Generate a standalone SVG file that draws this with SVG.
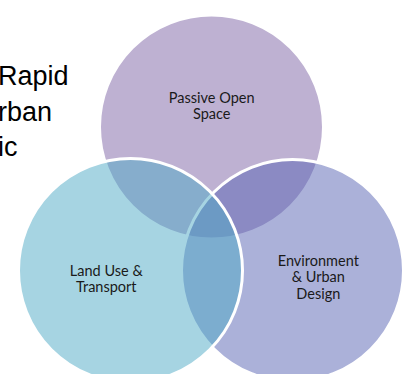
<svg xmlns="http://www.w3.org/2000/svg" width="403" height="374" viewBox="0 0 403 374">
  <style>
    .ring { stroke: #FFFFFF; stroke-width: 3; }
    .label { font-family: Lato, "Open Sans", sans-serif; font-size: 14.5px; fill: #1A1A1A; text-anchor: middle; }
    .slide { font-family: "Liberation Sans", Arial, sans-serif; font-size: 27px; fill: #000000; }
  </style>
  <rect width="403" height="374" fill="#FFFFFF"/>

  <!-- slide body text running in from the left -->
  <text class="slide" x="-2" y="84.5">Rapid</text>
  <text class="slide" x="-2" y="120.5">rban</text>
  <text class="slide" x="-2" y="156">ic</text>

  <!-- Venn circles: top first, then right, then left on top -->
  <g id="passive-open-space">
    <circle class="ring" cx="211.5" cy="127" r="112" fill="#BEB1D2"/>
  </g>
  <g id="environment-urban-design">
    <circle class="ring" cx="292.5" cy="270.5" r="111" fill="#5763B3" fill-opacity="0.5"/>
  </g>
  <g id="land-use-transport">
    <circle class="ring" cx="130.5" cy="270.5" r="112" fill="#4DA9C5" fill-opacity="0.5"/>
  </g>

  <g id="labels">
    <text class="label" x="211.7" y="102.7">Passive Open</text>
    <text class="label" x="211.7" y="119.4">Space</text>
    <text class="label" x="106.3" y="275.7">Land Use &amp;</text>
    <text class="label" x="106.3" y="292.4">Transport</text>
    <text class="label" x="318.3" y="265.7">Environment</text>
    <text class="label" x="318.3" y="282.4">&amp; Urban</text>
    <text class="label" x="318.3" y="299.1">Design</text>
  </g>

  <g id="connectors"/>
</svg>
